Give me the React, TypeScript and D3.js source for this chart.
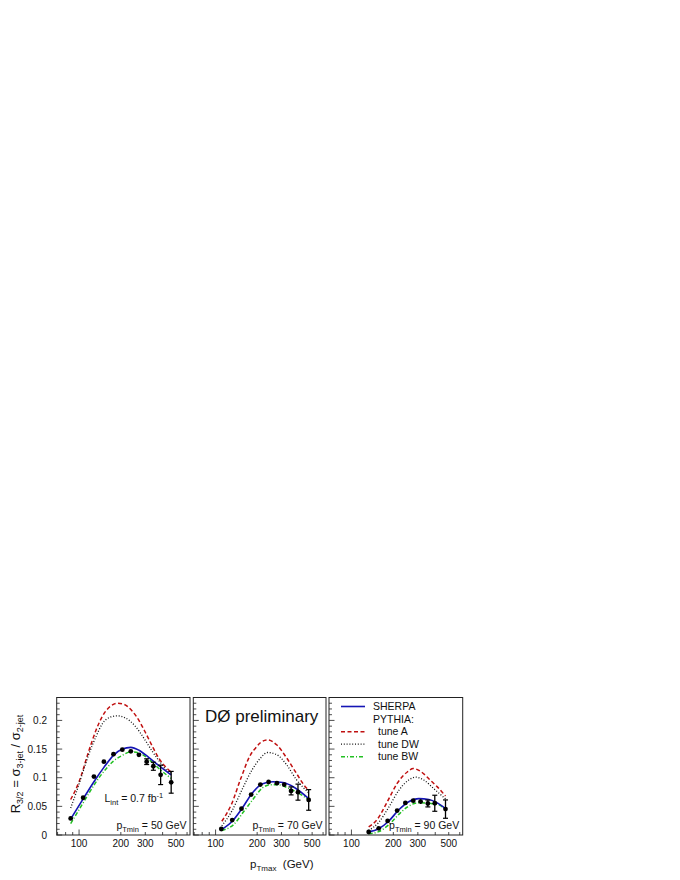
import React from 'react';
import * as d3 from 'd3';

// ---------- axis text ----------
const xTickValues = [100, 200, 300, 500];
const xTickLabels = ['100', '200', '300', '500'];
const xMinorTicks = [70, 80, 90, 200, 300, 400, 500, 600];
const yTickValues = [0, 0.05, 0.1, 0.15, 0.2];
const yTickLabels = ['0', '0.05', '0.1', '0.15', '0.2'];
const ptMinLabels = ['50', '70', '90'];

// ---------- data (pTmin = 50 GeV) ----------
const dataPt1 = [87, 107, 128, 151, 177, 205, 236, 270, 307, 343, 387, 461];
const dataR1 = [0.029, 0.065, 0.102, 0.128, 0.141, 0.149, 0.146, 0.14, 0.128, 0.12, 0.105, 0.092];
const dataErr1 = [0.002, 0.002, 0.002, 0.002, 0.002, 0.002, 0.003, 0.003, 0.005, 0.007, 0.017, 0.019];

const sherpaPt1 = [87, 107, 128, 151, 177, 205, 236, 270, 319, 376, 460];
const sherpaR1 = [0.028, 0.063, 0.093, 0.118, 0.139, 0.15, 0.153, 0.148, 0.135, 0.121, 0.105];
const tuneAPt1 = [87, 100, 118, 132, 147, 165, 189, 211, 242, 270, 302, 337, 376, 420, 460];
const tuneAR1 = [0.062, 0.093, 0.148, 0.182, 0.207, 0.223, 0.23, 0.228, 0.216, 0.2, 0.178, 0.155, 0.134, 0.119, 0.11];
const tuneDWPt1 = [87, 95, 106, 118, 132, 147, 169, 189, 217, 256, 293, 337, 387, 432, 460];
const tuneDWR1 = [0.047, 0.073, 0.108, 0.142, 0.171, 0.194, 0.206, 0.208, 0.204, 0.189, 0.169, 0.146, 0.126, 0.112, 0.108];
const tuneBWPt1 = [87, 107, 128, 151, 177, 205, 236, 270, 319, 376, 460];
const tuneBWR1 = [0.02, 0.056, 0.087, 0.111, 0.129, 0.139, 0.145, 0.143, 0.132, 0.116, 0.099];

// ---------- data (pTmin = 70 GeV) ----------
const dataPt2 = [110, 132, 154, 181, 211, 242, 278, 314, 352, 395, 472];
const dataR2 = [0.0105, 0.026, 0.046, 0.0706, 0.088, 0.0925, 0.0904, 0.088, 0.077, 0.0748, 0.0612];
const dataErr2 = [0.001, 0.001, 0.0015, 0.002, 0.002, 0.002, 0.002, 0.003, 0.007, 0.014, 0.018];

const sherpaPt2 = [108, 132, 156, 184, 217, 260, 307, 372, 470];
const sherpaR2 = [0.008, 0.024, 0.047, 0.073, 0.089, 0.093, 0.0915, 0.083, 0.064];
const tuneAPt2 = [111, 130, 152, 179, 195, 211, 237, 278, 326, 384, 455, 470];
const tuneAR2 = [0.024, 0.053, 0.098, 0.14, 0.152, 0.161, 0.166, 0.157, 0.135, 0.108, 0.082, 0.079];
const tuneDWPt2 = [111, 132, 156, 184, 211, 238, 278, 326, 384, 470];
const tuneDWR2 = [0.016, 0.043, 0.08, 0.114, 0.134, 0.144, 0.14, 0.123, 0.097, 0.074];
const tuneBWPt2 = [111, 135, 160, 189, 217, 248, 285, 337, 398, 470];
const tuneBWR2 = [0.008, 0.018, 0.041, 0.064, 0.0817, 0.0875, 0.0875, 0.0817, 0.073, 0.062];

// ---------- data (pTmin = 90 GeV) ----------
const dataPt3 = [133, 157, 182, 213, 244, 278, 314, 354, 397, 474];
const dataR3 = [0.0052, 0.0117, 0.0245, 0.0426, 0.056, 0.06, 0.0583, 0.055, 0.0554, 0.0452];
const dataErr3 = [0.001, 0.001, 0.0015, 0.002, 0.002, 0.003, 0.004, 0.006, 0.014, 0.016];

const sherpaPt3 = [133, 157, 185, 219, 258, 305, 360, 414, 474];
const sherpaR3 = [0.0055, 0.011, 0.024, 0.044, 0.058, 0.0635, 0.062, 0.056, 0.0462];
const tuneAPt3 = [133, 153, 181, 213, 252, 278, 314, 371, 414, 474];
const tuneAR3 = [0.014, 0.027, 0.058, 0.09, 0.11, 0.116, 0.111, 0.095, 0.084, 0.068];
const tuneDWPt3 = [133, 157, 185, 219, 258, 289, 331, 390, 474];
const tuneDWR3 = [0.008, 0.022, 0.048, 0.078, 0.096, 0.101, 0.096, 0.081, 0.063];
const tuneBWPt3 = [133, 157, 185, 219, 258, 305, 360, 414, 474];
const tuneBWR3 = [0.002, 0.0058, 0.0175, 0.036, 0.0505, 0.0565, 0.0554, 0.0537, 0.045];

const panels = [
  { x0: 56.7, x1: 190, dPt: dataPt1, dR: dataR1, dE: dataErr1,
    curves: [[tuneAPt1, tuneAR1], [tuneDWPt1, tuneDWR1], [tuneBWPt1, tuneBWR1], [sherpaPt1, sherpaR1]] },
  { x0: 193.3, x1: 326, dPt: dataPt2, dR: dataR2, dE: dataErr2,
    curves: [[tuneAPt2, tuneAR2], [tuneDWPt2, tuneDWR2], [tuneBWPt2, tuneBWR2], [sherpaPt2, sherpaR2]] },
  { x0: 329, x1: 462.7, dPt: dataPt3, dR: dataR3, dE: dataErr3,
    curves: [[tuneAPt3, tuneAR3], [tuneDWPt3, tuneDWR3], [tuneBWPt3, tuneBWR3], [sherpaPt3, sherpaR3]] },
];

const styles = [
  { stroke: '#c01010', width: 1.5, dash: '4,2.5' },
  { stroke: '#111111', width: 1.3, dash: '1,1.8' },
  { stroke: '#22c022', width: 1.5, dash: '4,2,1,2' },
  { stroke: '#1515b5', width: 1.6, dash: undefined },
];

const TOP = 697.5;
const BOTTOM = 835;
const FONT = 'Liberation Sans, Arial, Helvetica, sans-serif';

export default function App() {
  const y = d3.scaleLinear().domain([0, 0.24]).range([BOTTOM, TOP]);
  const minorY = d3.range(0, 0.2401, 0.01);

  return (
    <svg width={680} height={880} style={{ position: 'absolute', left: 0, top: 0 }} fontFamily={FONT}>
      <rect x={0} y={0} width={680} height={880} fill="#fff" />
      {panels.map((p, i) => {
        const x = d3.scaleLog().domain([69, 630]).range([p.x0, p.x1]);
        const line = d3.line<[number, number]>().x(d => x(d[0])).y(d => y(d[1])).curve(d3.curveMonotoneX);
        return (
          <g key={i}>
            {/* ticks */}
            {minorY.map((v, k) => {
              const major = Math.abs(v / 0.05 - Math.round(v / 0.05)) < 1e-6;
              return <line key={'yt' + k} x1={p.x0} x2={p.x0 + (major ? 5.5 : 3)} y1={y(v)} y2={y(v)} stroke="#222" strokeWidth={0.8} />;
            })}
            {[...xMinorTicks, 100].map((v, k) => (
              <line key={'xt' + k} x1={x(v)} x2={x(v)} y1={BOTTOM} y2={BOTTOM - (v === 100 ? 5.5 : 3)} stroke="#222" strokeWidth={0.8} />
            ))}
            {xTickValues.map((v, k) => (
              <text key={'xl' + k} x={x(v)} y={846.5} fontSize={10} textAnchor="middle" fill="#111">{xTickLabels[k]}</text>
            ))}
            {/* curves */}
            {p.curves.map((c, k) => {
              const pts = c[0].map((pt, j) => [pt, c[1][j]] as [number, number]);
              return <path key={'c' + k} d={line(pts) || ''} fill="none" stroke={styles[k].stroke}
                strokeWidth={styles[k].width} strokeDasharray={styles[k].dash} />;
            })}
            {/* data */}
            {p.dPt.map((pt, k) => {
              const cx = x(pt);
              const e = p.dE[k];
              return (
                <g key={'d' + k}>
                  <line x1={cx} x2={cx} y1={y(p.dR[k] - e)} y2={y(p.dR[k] + e)} stroke="#000" strokeWidth={1.3} />
                  {e > 0.004 && <>
                    <line x1={cx - 2.5} x2={cx + 2.5} y1={y(p.dR[k] - e)} y2={y(p.dR[k] - e)} stroke="#000" strokeWidth={1.2} />
                    <line x1={cx - 2.5} x2={cx + 2.5} y1={y(p.dR[k] + e)} y2={y(p.dR[k] + e)} stroke="#000" strokeWidth={1.2} />
                  </>}
                  <circle cx={cx} cy={y(p.dR[k])} r={2.4} fill="#000" />
                </g>
              );
            })}
            <rect x={p.x0} y={TOP} width={p.x1 - p.x0} height={BOTTOM - TOP} fill="none" stroke="#222" strokeWidth={1} />
            <text x={p.x1 - 3.5} y={829} fontSize={10.5} textAnchor="end" fill="#111" style={{ whiteSpace: 'pre' }}>
              p<tspan fontSize={7.5} dy={2.5}>Tmin</tspan><tspan dy={-2.5}>{' = ' + ptMinLabels[i] + ' GeV'}</tspan>
            </text>
          </g>
        );
      })}

      {/* y tick labels */}
      {yTickValues.map((v, k) => (
        <text key={'yl' + k} x={47} y={y(v) + 3.5} fontSize={10} textAnchor="end" fill="#111">{yTickLabels[k]}</text>
      ))}

      {/* axis titles */}
      <text transform="translate(20,764) rotate(-90)" fontSize={13} textAnchor="middle" fill="#111" style={{ whiteSpace: 'pre' }}>
        R<tspan fontSize={9} dy={3}>3/2</tspan><tspan dy={-3}> = σ</tspan><tspan fontSize={9} dy={3}>3-jet</tspan><tspan dy={-3}> / σ</tspan><tspan fontSize={9} dy={3}>2-jet</tspan>
      </text>
      <text x={250} y={868} fontSize={11.5} fill="#111" style={{ whiteSpace: 'pre' }}>
        p<tspan fontSize={8} dy={2.5}>Tmax</tspan><tspan dy={-2.5}>{'  (GeV)'}</tspan>
      </text>

      {/* annotations */}
      <text x={104.5} y={802} fontSize={10.5} fill="#111" style={{ whiteSpace: 'pre' }}>
        L<tspan fontSize={7.5} dy={2.5}>int</tspan><tspan dy={-2.5}> = 0.7 fb</tspan><tspan fontSize={7.5} dy={-4}>-1</tspan>
      </text>
      <text x={205} y={721.5} fontSize={17} fill="#111">DØ preliminary</text>

      {/* legend */}
      <line x1={341} x2={365} y1={706.5} y2={706.5} stroke={styles[3].stroke} strokeWidth={1.6} />
      <text x={373} y={710.3} fontSize={10.5} fill="#111">SHERPA</text>
      <text x={373} y={722.8} fontSize={10.5} fill="#111">PYTHIA:</text>
      <line x1={341} x2={365} y1={731.7} y2={731.7} stroke={styles[0].stroke} strokeWidth={1.5} strokeDasharray={styles[0].dash} />
      <text x={378} y={735.3} fontSize={10.5} fill="#111">tune A</text>
      <line x1={341} x2={365} y1={744.2} y2={744.2} stroke={styles[1].stroke} strokeWidth={1.3} strokeDasharray={styles[1].dash} />
      <text x={378} y={747.8} fontSize={10.5} fill="#111">tune DW</text>
      <line x1={341} x2={365} y1={756.7} y2={756.7} stroke={styles[2].stroke} strokeWidth={1.5} strokeDasharray={styles[2].dash} />
      <text x={378} y={760.3} fontSize={10.5} fill="#111">tune BW</text>
    </svg>
  );
}
